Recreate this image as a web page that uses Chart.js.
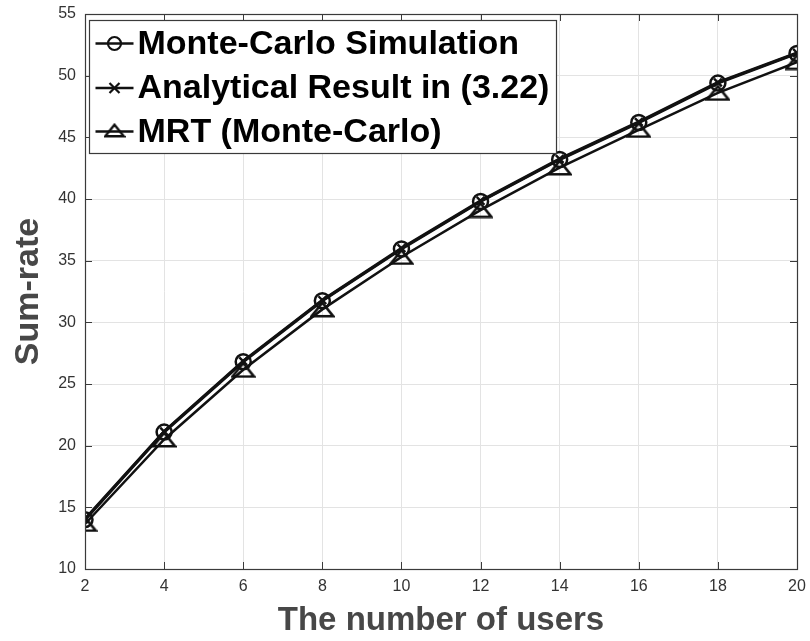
<!DOCTYPE html>
<html>
<head>
<meta charset="utf-8">
<script src="https://cdn.jsdelivr.net/npm/chart.js@4.4.1/dist/chart.umd.min.js"></script>
<style>
  html, body { margin: 0; padding: 0; background: #ffffff; }
  #wrap { width: 810px; height: 641px; }
</style>
</head>
<body>
<div id="wrap"><canvas id="c" width="810" height="641"></canvas></div>
<script>
// Number of users (x axis)
const users = [2, 4, 6, 8, 10, 12, 14, 16, 18, 20];

// Sum-rate series
const monteCarlo = [14.0, 21.1, 26.8, 31.75, 35.95, 39.8, 43.2, 46.2, 49.4, 51.8];
const analytical = [14.05, 21.15, 26.85, 31.8, 36.0, 39.85, 43.25, 46.25, 49.45, 51.85];
const mrt = [13.65, 20.5, 26.15, 31.05, 35.3, 39.1, 42.55, 45.6, 48.6, 51.1];

// Legend / series names
const seriesNames = ['Monte-Carlo Simulation', 'Analytical Result in (3.22)', 'MRT (Monte-Carlo)'];

// Axis tick labels
const xTicks = [2, 4, 6, 8, 10, 12, 14, 16, 18, 20];
const yTicks = [10, 15, 20, 25, 30, 35, 40, 45, 50, 55];

const INK = '#111111';
const AXIS = '#3a3a3a';
const FONT = '"Liberation Sans", Arial, Helvetica, sans-serif';

// Open triangle marker image
function triangleMarker(w, h, lw) {
  const cv = document.createElement('canvas');
  cv.width = w; cv.height = h;
  const g = cv.getContext('2d');
  g.strokeStyle = INK;
  g.lineWidth = lw;
  g.lineJoin = 'miter';
  const pad = lw / 2 + 0.5;
  g.beginPath();
  g.moveTo(w / 2, pad);
  g.lineTo(w - pad, h - pad);
  g.lineTo(pad, h - pad);
  g.closePath();
  g.stroke();
  return cv;
}
const triPlot = triangleMarker(25, 17, 2.6);
const triLegend = triangleMarker(22, 15, 2.4);

const toXY = (ys) => users.map((x, i) => ({ x: x, y: ys[i] }));

// Axes box with inward ticks on all four sides
const framePlugin = {
  id: 'frame',
  afterDatasetsDraw(chart) {
    const { ctx, chartArea: a, scales } = chart;
    const L = 7;
    ctx.save();
    ctx.strokeStyle = AXIS;
    ctx.lineWidth = 1;
    ctx.beginPath();
    xTicks.forEach(v => {
      const px = Math.round(scales.x.getPixelForValue(v)) + 0.5;
      ctx.moveTo(px, a.bottom); ctx.lineTo(px, a.bottom - L);
      ctx.moveTo(px, a.top); ctx.lineTo(px, a.top + L);
    });
    yTicks.forEach(v => {
      const py = Math.round(scales.y.getPixelForValue(v)) + 0.5;
      ctx.moveTo(a.left, py); ctx.lineTo(a.left + L, py);
      ctx.moveTo(a.right, py); ctx.lineTo(a.right - L, py);
    });
    ctx.stroke();
    ctx.lineWidth = 1.2;
    ctx.strokeRect(Math.round(a.left) + 0.5, Math.round(a.top) + 0.5,
                   Math.round(a.right - a.left), Math.round(a.bottom - a.top));
    ctx.restore();
  }
};

// Boxed legend in the upper-left corner of the plot
const legendPlugin = {
  id: 'boxLegend',
  afterDraw(chart) {
    const { ctx, chartArea: a } = chart;
    const box = { x: a.left + 4.5, y: a.top + 6.5, w: 467, h: 133 };
    ctx.save();
    ctx.fillStyle = '#ffffff';
    ctx.fillRect(box.x, box.y, box.w, box.h);
    ctx.strokeStyle = '#3a3a3a';
    ctx.lineWidth = 1.2;
    ctx.strokeRect(box.x, box.y, box.w, box.h);

    const rows = [box.y + 23, box.y + 67.5, box.y + 111];
    const x0 = box.x + 6, x1 = box.x + 44, xm = (x0 + x1) / 2;
    chart.data.datasets.forEach((ds, i) => {
      const y = rows[i];
      ctx.strokeStyle = INK;
      ctx.lineWidth = 2.4;
      ctx.beginPath();
      ctx.moveTo(x0, y); ctx.lineTo(x1, y);
      ctx.stroke();
      if (ds.pointStyle === 'circle') {
        ctx.lineWidth = 2.2;
        ctx.beginPath();
        ctx.arc(xm, y, 6.5, 0, Math.PI * 2);
        ctx.stroke();
      } else if (ds.pointStyle === 'crossRot') {
        ctx.lineWidth = 2.2;
        const r = 5;
        ctx.beginPath();
        ctx.moveTo(xm - r, y - r); ctx.lineTo(xm + r, y + r);
        ctx.moveTo(xm - r, y + r); ctx.lineTo(xm + r, y - r);
        ctx.stroke();
      } else {
        ctx.drawImage(triLegend, xm - triLegend.width / 2, y - triLegend.height / 2 - 1);
      }
      ctx.fillStyle = '#000000';
      ctx.font = 'bold 34px ' + FONT;
      ctx.textBaseline = 'middle';
      ctx.textAlign = 'left';
      ctx.fillText(ds.label, box.x + 48, y + 1);
    });
    ctx.restore();
  }
};

new Chart(document.getElementById('c'), {
  type: 'line',
  data: {
    datasets: [
      {
        label: seriesNames[0],
        data: toXY(monteCarlo),
        borderColor: INK,
        borderWidth: 3,
        pointStyle: 'circle',
        pointRadius: 7.5,
        pointBorderWidth: 2.5,
        pointBorderColor: INK,
        pointBackgroundColor: 'rgba(0,0,0,0)',
        tension: 0
      },
      {
        label: seriesNames[1],
        data: toXY(analytical),
        borderColor: INK,
        borderWidth: 3,
        pointStyle: 'crossRot',
        pointRadius: 5.5,
        pointBorderWidth: 2.4,
        pointBorderColor: INK,
        pointBackgroundColor: 'rgba(0,0,0,0)',
        tension: 0
      },
      {
        label: seriesNames[2],
        data: toXY(mrt),
        borderColor: INK,
        borderWidth: 2.5,
        pointStyle: triPlot,
        pointRadius: 9,
        tension: 0
      }
    ]
  },
  options: {
    responsive: false,
    animation: false,
    layout: { padding: { top: 14, right: 13, left: 0, bottom: 0 } },
    plugins: {
      legend: { display: false },
      tooltip: { enabled: false }
    },
    scales: {
      x: {
        type: 'linear',
        min: 2, max: 20,
        afterBuildTicks(scale) { scale.ticks = xTicks.map(v => ({ value: v })); },
        afterFit(scale) {
          scale.height = 72;
          scale.paddingLeft = 0;
          scale.paddingRight = 0;
        },
        grid: { color: '#e3e3e3', lineWidth: 1, drawTicks: false },
        border: { display: false },
        ticks: {
          padding: 8,
          color: '#333333',
          font: { family: FONT, size: 16 },
          maxRotation: 0,
          autoSkip: false
        },
        title: {
          display: true,
          text: 'The number of users',
          color: '#474747',
          font: { family: FONT, size: 33, weight: 'bold', lineHeight: 1.2 },
          padding: { top: 0, bottom: 0 }
        }
      },
      y: {
        type: 'linear',
        min: 10, max: 55,
        afterBuildTicks(scale) { scale.ticks = yTicks.map(v => ({ value: v })); },
        afterFit(scale) {
          scale.width = 85;
          scale.paddingTop = 0;
          scale.paddingBottom = 0;
        },
        grid: { color: '#e3e3e3', lineWidth: 1, drawTicks: false },
        border: { display: false },
        ticks: {
          padding: 9,
          color: '#333333',
          font: { family: FONT, size: 16 },
          autoSkip: false
        },
        title: {
          display: true,
          text: 'Sum-rate',
          color: '#474747',
          font: { family: FONT, size: 34, weight: 'bold', lineHeight: 1.2 },
          padding: { top: 8, bottom: 0 }
        }
      }
    }
  },
  plugins: [framePlugin, legendPlugin]
});
</script>
</body>
</html>
